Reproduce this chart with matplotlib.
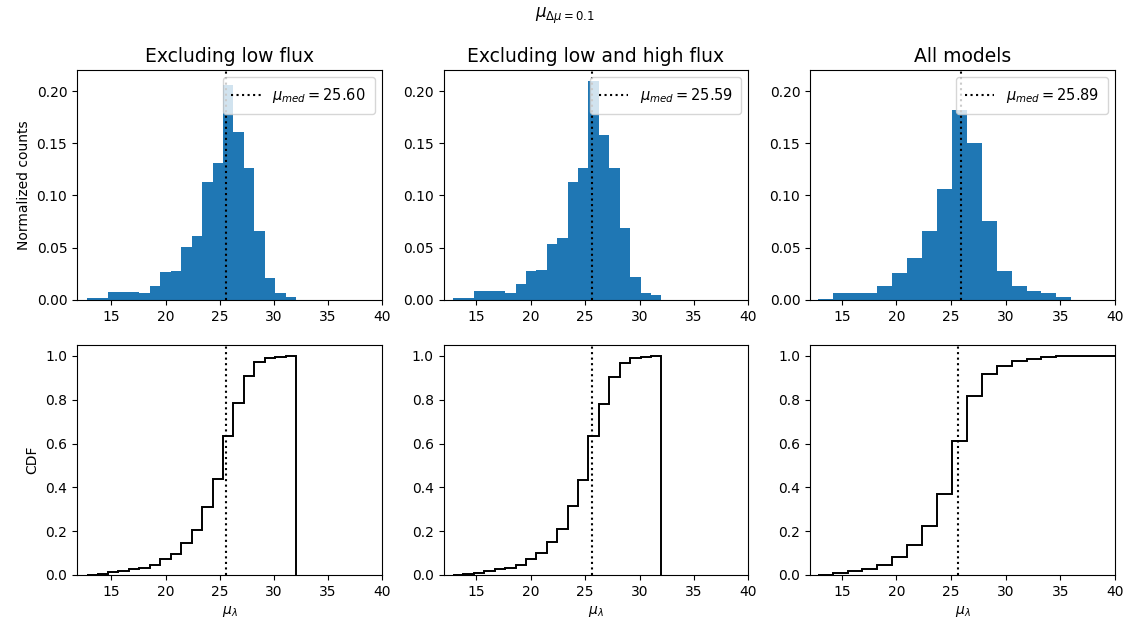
import numpy as np
import matplotlib
matplotlib.use("Agg")
import matplotlib.pyplot as plt

# ---- data ----
titles = ["Excluding low flux", "Excluding low and high flux", "All models"]

# histogram bin ranges (lo, hi, nbins) per panel
bin_lo = [12.75, 12.87, 12.80]
bin_hi = [32.08, 32.01, 41.465]
n_bins = [20, 20, 21]

h_low = [0.002, 0.002, 0.008, 0.008, 0.008, 0.0064, 0.0134, 0.027, 0.028, 0.0505,
         0.061, 0.1127, 0.131, 0.2055, 0.161, 0.1265, 0.0658, 0.021, 0.0067, 0.003]
h_lowhigh = [0.0016, 0.0016, 0.0083, 0.0083, 0.0083, 0.0067, 0.0153, 0.0275, 0.0288, 0.0537,
             0.0594, 0.1128, 0.1265, 0.2096, 0.1575, 0.1265, 0.0687, 0.0224, 0.0064, 0.0048]
# all models: a thin tail carries on past 40
h_all = [0.0013, 0.0067, 0.0067, 0.0067, 0.0137, 0.0256, 0.0403, 0.0658, 0.1058,
         0.182, 0.150, 0.076, 0.0275, 0.0137, 0.0083, 0.0062, 0.0030,
         0.0004, 0.0003, 0.0002, 0.0002]
heights = [h_low, h_lowhigh, h_all]

med_hist = [25.60, 25.59, 25.89]   # line + legend in top row
med_cdf = [25.60, 25.59, 25.60]    # line in bottom row
x_left = [11.82, 12.0, 12.1]

fig, axs = plt.subplots(2, 3, figsize=(11.29, 6.28), dpi=100)
fig.subplots_adjust(left=0.0682, right=0.9876, top=0.8885, bottom=0.0844,
                    wspace=0.202, hspace=0.196)

ymax_top = 1.05 * max(max(h) for h in heights)

for i in range(3):
    edges = np.linspace(bin_lo[i], bin_hi[i], n_bins[i] + 1)
    centers = 0.5 * (edges[:-1] + edges[1:])
    h = np.array(heights[i])

    ax = axs[0, i]
    ax.hist(centers, bins=edges, weights=h, color="C0")
    ax.axvline(med_hist[i], color="k", ls=":", lw=1.5,
               label=r"$\mu_{med} = %.2f$" % med_hist[i])
    ax.legend(loc="upper right", fontsize=10.5, borderpad=0.6)
    ax.set_title(titles[i], fontsize=13.5)
    ax.set_xlim(x_left[i], 40)
    ax.set_ylim(0, ymax_top)

    ax = axs[1, i]
    ax.hist(centers, bins=edges, weights=h / h.sum(), cumulative=True,
            histtype="step", color="k", lw=1.4)
    ax.axvline(med_cdf[i], color="k", ls=":", lw=1.5)
    ax.set_xlim(x_left[i], 40)
    ax.set_xlabel(r"$\mu_\lambda$", fontsize=10)

axs[0, 0].set_ylabel("Normalized counts", fontsize=10)
axs[1, 0].set_ylabel("CDF", fontsize=10)
fig.suptitle(r"$\mu_{\Delta\mu = 0.1}$", fontsize=12, y=0.99)

fig.savefig("out.png", dpi=100)
